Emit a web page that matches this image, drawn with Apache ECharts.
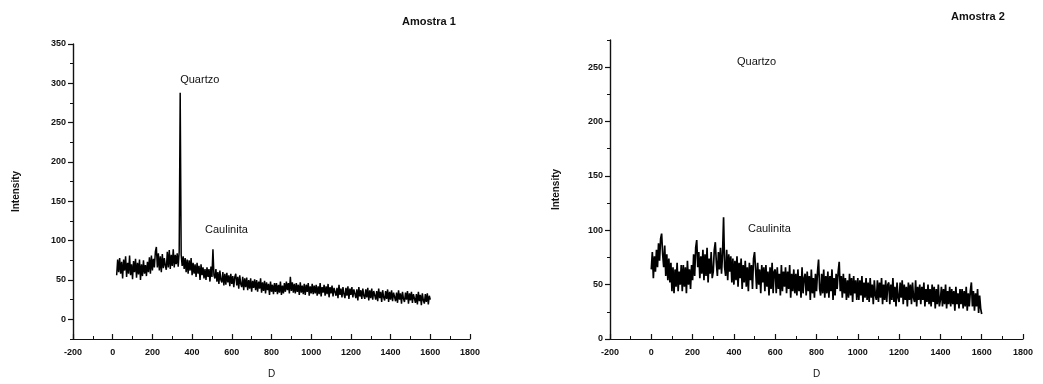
<!DOCTYPE html>
<html>
<head>
<meta charset="utf-8">
<script src="https://cdn.jsdelivr.net/npm/echarts@6/dist/echarts.min.js"></script>
<style>html,body{margin:0;padding:0;background:#fff}#c{width:1043px;height:384px}</style>
</head>
<body>
<div id="c"></div>
<script>
// Amostra 1 : D from 20 to 1600, step 5
const x1Start = 20, x1Step = 5;
const intensity1 = [
  56,76,60,78,58,73,52,76,62,80,
  54,72,58,81,56,70,51,74,60,77,
  53,72,57,76,50,70,55,75,58,69,
  55,73,60,79,58,81,62,77,66,86,
  92,66,84,62,80,60,83,65,78,68,
  63,86,66,88,64,82,68,89,66,82,
  70,84,67,86,288,82,68,80,64,78,
  60,76,58,75,62,78,56,72,58,70,
  54,72,58,68,50,70,56,66,52,64,
  50,66,54,64,48,67,54,89,56,52,
  64,48,60,45,62,50,47,60,43,58,
  44,59,47,56,42,58,45,55,41,54,
  58,43,54,39,56,45,41,54,37,52,
  41,53,37,50,39,52,35,49,40,51,
  37,50,35,48,39,52,34,47,36,49,
  33,47,37,45,31,48,35,44,32,46,
  35,46,32,44,34,48,31,43,33,46,
  35,48,37,46,33,54,36,47,34,45,
  33,46,35,44,31,47,34,43,32,45,
  31,44,35,46,30,42,33,45,32,43,
  33,44,30,42,32,46,29,41,34,44,
  30,42,32,45,28,41,33,43,29,40,
  42,30,40,27,44,31,39,28,41,32,
  27,40,30,42,26,39,31,41,28,38,
  40,27,38,24,41,29,37,26,39,30,
  26,38,28,40,24,37,27,39,25,36,
  38,25,36,23,39,27,35,22,37,28,
  24,36,26,38,22,35,25,37,23,34,
  36,23,34,21,37,25,33,20,35,26,
  22,34,25,36,20,33,24,35,21,32,
  34,21,32,19,35,23,31,18,33,24,
  20,32,22,33,19,30,25
];
// Amostra 2 : D from 0 to 1600, step 5
const x2Start = 0, x2Step = 5;
const intensity2 = [
  64,80,56,76,62,82,66,88,72,92,
  97,78,66,86,58,78,54,74,52,70,
  44,66,42,64,48,70,44,62,50,68,
  44,68,48,66,42,72,50,64,46,68,
  54,78,58,84,91,66,80,56,76,60,
  82,54,78,58,84,52,74,60,80,56,
  62,82,89,70,58,80,64,84,60,78,
  112,66,58,82,54,78,62,76,52,74,
  50,72,54,76,48,70,56,74,46,68,
  52,72,48,66,44,70,54,68,46,74,
  80,64,46,70,50,64,42,68,52,66,
  44,68,48,62,40,66,46,70,42,62,
  64,42,66,46,60,40,68,44,62,48,
  66,42,62,46,68,38,60,44,64,42,
  60,40,64,44,58,38,66,42,56,60,
  40,62,44,58,36,64,42,56,38,60,
  44,62,73,46,40,60,42,64,38,58,
  42,62,38,58,44,64,36,56,40,60,
  46,62,71,44,58,38,60,42,56,36,
  54,38,60,40,56,34,58,42,54,36,
  56,36,54,40,58,34,52,38,56,36,
  52,34,56,38,50,32,54,40,36,54,
  34,52,38,56,32,50,36,54,34,50,
  52,32,50,36,56,34,48,30,52,38,
  34,52,38,54,32,50,36,48,30,52,
  36,50,32,52,38,34,54,30,48,36,
  50,32,48,36,52,30,46,34,50,32,
  46,30,50,34,48,28,46,32,50,30,
  36,48,30,46,32,50,28,44,32,48,
  30,46,32,44,26,48,32,42,28,46,
  32,46,28,44,30,48,26,42,30,44,
  52,30,44,26,42,30,46,24,40,28,
  23
];
const xTicks = [-200, 1800, 200];
const y1Labels = [0, 50, 100, 150, 200, 250, 300, 350];
const y1Minor = [-25, 25, 75, 125, 175, 225, 275, 325];
const y2Labels = [0, 50, 100, 150, 200, 250];
const y2Minor = [25, 75, 125, 175, 225, 275];
const titles = ['Amostra 1', 'Amostra 2'];
const notes1 = [['Quartzo', 340, 304], ['Caulinita', 465, 114]];
const notes2 = [['Quartzo', 415, 255], ['Caulinita', 468, 101]];

const pts1 = intensity1.map((v, i) => [x1Start + i * x1Step, v]);
const pts2 = intensity2.map((v, i) => [x2Start + i * x2Step, v]);

const FONT = '"Liberation Sans", Arial, sans-serif';
const ink = '#111';

function xAxis(grid) {
  return {
    type: 'value', gridIndex: grid, min: xTicks[0], max: xTicks[1], interval: xTicks[2],
    name: 'D', nameLocation: 'middle', nameGap: 30,
    nameTextStyle: { color: ink, fontSize: 10, fontFamily: FONT },
    axisLine: { show: true, onZero: false, lineStyle: { color: ink, width: 1.2 } },
    axisTick: { show: true, inside: true, length: 5, lineStyle: { color: ink, width: 1.2 } },
    minorTick: { show: true, splitNumber: 2, length: 3, lineStyle: { color: ink, width: 1 } },
    axisLabel: { color: ink, fontSize: 9, fontWeight: 'bold', fontFamily: FONT, margin: 9,
      formatter: v => String(v) },
    splitLine: { show: false }
  };
}
function yAxisMain(grid, min, max, labels, gap) {
  return {
    type: 'value', gridIndex: grid, min: min, max: max, position: 'left',
    name: 'Intensity', nameLocation: 'middle', nameGap: gap,
    nameTextStyle: { color: ink, fontSize: 10, fontWeight: 'bold', fontFamily: FONT },
    axisLine: { show: true, onZero: false, lineStyle: { color: ink, width: 1.4 } },
    axisTick: { show: true, inside: false, length: 5, customValues: labels, lineStyle: { color: ink, width: 1.2 } },
    axisLabel: { color: ink, fontSize: 9, fontWeight: 'bold', fontFamily: FONT, margin: 7, customValues: labels },
    splitLine: { show: false }
  };
}
function yAxisMinor(grid, min, max, minor) {
  return {
    type: 'value', gridIndex: grid, min: min, max: max, position: 'left', offset: 0,
    axisLine: { show: false, onZero: false },
    axisTick: { show: true, inside: false, length: 3, customValues: minor, lineStyle: { color: ink, width: 1 } },
    axisLabel: { show: false },
    splitLine: { show: false }
  };
}

const chart = echarts.init(document.getElementById('c'), null, { renderer: 'canvas' });
chart.setOption({
  backgroundColor: '#fff',
  animation: false,
  grid: [
    { left: 73, top: 44, width: 397, height: 300 },
    { left: 610, top: 40, width: 413, height: 303 }
  ],
  xAxis: [xAxis(0), xAxis(1)],
  yAxis: [
    yAxisMain(0, -25, 350, y1Labels, 52),
    yAxisMinor(0, -25, 350, y1Minor),
    yAxisMain(1, 0, 275, y2Labels, 49),
    yAxisMinor(1, 0, 275, y2Minor)
  ],
  series: [
    { type: 'line', xAxisIndex: 0, yAxisIndex: 0, data: pts1, showSymbol: false, symbol: 'none',
      lineStyle: { color: '#000', width: 1.5 } },
    { type: 'line', xAxisIndex: 1, yAxisIndex: 2, data: pts2, showSymbol: false, symbol: 'none',
      lineStyle: { color: '#000', width: 1.7 } }
  ]
});

const graphics = [
  { type: 'text', left: 402, top: 16, style: { text: titles[0], fill: ink, font: 'bold 11px ' + FONT } },
  { type: 'text', left: 951, top: 11, style: { text: titles[1], fill: ink, font: 'bold 11px ' + FONT } }
];
function addNotes(notes, xi, yi) {
  notes.forEach(n => {
    const p = chart.convertToPixel({ xAxisIndex: xi, yAxisIndex: yi }, [n[1], n[2]]);
    graphics.push({ type: 'text', x: p[0], y: p[1],
      style: { text: n[0], fill: ink, font: '11px ' + FONT, verticalAlign: 'middle' } });
  });
}
addNotes(notes1, 0, 0);
addNotes(notes2, 1, 2);
chart.setOption({ graphic: graphics });
</script>
</body>
</html>
